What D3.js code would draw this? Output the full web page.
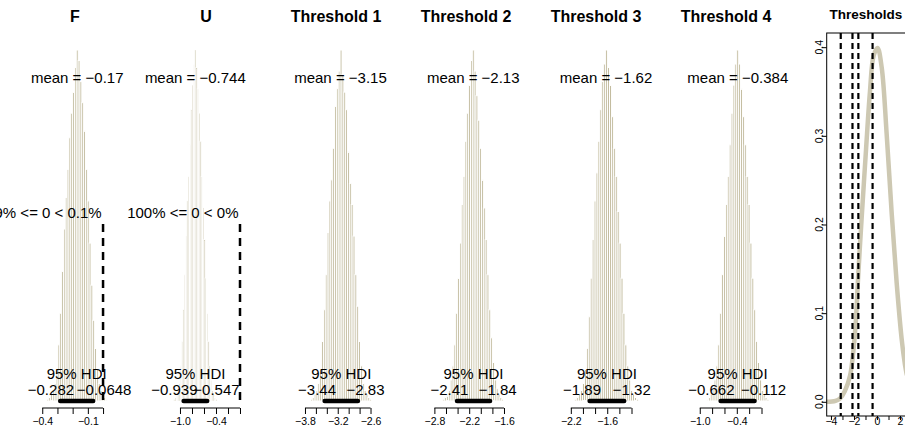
<!DOCTYPE html>
<html>
<head>
<meta charset="utf-8">
<script src="https://cdn.jsdelivr.net/npm/d3@7"></script>
<style>
  body { margin: 0; background: #fff; }
  svg { display: block; font-family: "Liberation Sans", Arial, Helvetica, sans-serif; }
</style>
</head>
<body>
<div id="chart"></div>
<script>
/* DATA */
const panelTitles = ["F", "U", "Threshold 1", "Threshold 2", "Threshold 3", "Threshold 4"];
const means = [-0.17, -0.744, -3.15, -2.13, -1.62, -0.384];
const hdiLow = [-0.282, -0.939, -3.44, -2.41, -1.89, -0.662];
const hdiHigh = [-0.0648, -0.547, -2.83, -1.84, -1.32, -0.112];
const xDomains = [[-0.418, 0.049], [-1.158, 0.025], [-3.882, -2.582], [-2.867, -1.643], [-2.37, -1.20], [-1.15, 0.0]];
const xTicks = [
  [-0.4, -0.3, -0.2, -0.1, 0.0],
  [-1.0, -0.8, -0.6, -0.4, -0.2, 0.0],
  [-3.8, -3.6, -3.4, -3.2, -3.0, -2.8, -2.6],
  [-2.8, -2.6, -2.4, -2.2, -2.0, -1.8, -1.6],
  [-2.2, -2.0, -1.8, -1.6, -1.4, -1.2],
  [-1.0, -0.8, -0.6, -0.4, -0.2, 0.0]
];
const xTickLabels = [[-0.4, -0.1], [-1.0, -0.4], [-3.8, -3.2, -2.6], [-2.8, -2.2, -1.6], [-2.2, -1.6], [-1.0, -0.4]];
// comparison value (only F and U)
const compVals = [0, 0, null, null, null, null];
const pctBelow = [99.9, 100, null, null, null, null];
const pctAbove = [0.1, 0, null, null, null, null];

// histogram bins: first edge, bin width, relative heights
const binStart = [-0.369, -1.103, -3.699, -2.653, -2.133, -0.890];
const binWidth = [0.01206, 0.02178, 0.0339, 0.0317, 0.0317, 0.0306];
const binHeights = [
  [0.005,0.01,0.02,0.03,0.05,0.09,0.16,0.25,0.37,0.49,0.58,0.66,0.75,0.82,0.88,0.95,1.0,0.97,0.91,0.85,0.77,0.66,0.57,0.45,0.33,0.23,0.15,0.09,0.05,0.03,0.015,0.01,0.005],
  [0.005,0.01,0.015,0.03,0.05,0.10,0.17,0.26,0.36,0.47,0.57,0.64,0.73,0.83,0.90,0.96,1.0,0.95,0.89,0.82,0.74,0.64,0.55,0.46,0.35,0.25,0.17,0.10,0.06,0.03,0.02,0.01,0.005],
  [0.005,0.01,0.02,0.03,0.05,0.09,0.17,0.26,0.36,0.48,0.57,0.63,0.72,0.84,0.89,0.94,1.0,0.93,0.88,0.83,0.71,0.62,0.56,0.47,0.36,0.27,0.17,0.10,0.05,0.03,0.02,0.01,0.005],
  [0.005,0.01,0.015,0.03,0.06,0.10,0.16,0.25,0.35,0.45,0.56,0.64,0.74,0.82,0.90,0.97,1.0,0.94,0.87,0.80,0.72,0.63,0.55,0.46,0.36,0.26,0.18,0.11,0.06,0.035,0.02,0.01,0.005],
  [0.005,0.01,0.02,0.03,0.05,0.09,0.15,0.24,0.35,0.46,0.57,0.65,0.74,0.83,0.91,0.96,1.0,0.95,0.90,0.81,0.72,0.64,0.54,0.45,0.35,0.25,0.16,0.10,0.06,0.03,0.02,0.01,0.005],
  [0.005,0.01,0.02,0.035,0.06,0.10,0.16,0.25,0.36,0.47,0.56,0.64,0.73,0.82,0.90,0.96,1.0,0.96,0.89,0.81,0.73,0.64,0.56,0.45,0.35,0.26,0.17,0.11,0.06,0.03,0.02,0.01,0.005]
];

const curveX = [-4.4, -3.6, -3.2, -2.8, -2.35, -1.91, -1.62, -1.33, -0.96, -0.61, -0.3, 0.05, 0.41, 0.84, 1.28, 1.71, 2.15, 2.43, 2.6];
const curveY = [0.0, 0.001, 0.004, 0.012, 0.029, 0.078, 0.145, 0.208, 0.283, 0.35, 0.39, 0.399, 0.377, 0.302, 0.212, 0.134, 0.07, 0.042, 0.03];
const rightXTicks = [-4, -3, -2, -1, 0, 1, 2];
const rightXLabels = [-4, -2, 0, 2];
const rightYTicks = [0, 0.1, 0.2, 0.3, 0.4];

/* LAYOUT */
const width = 905, height = 428;
const barColor = "#BFB899";
const curveColor = "#CDC8B2";
const panelCenters = [75, 206, 336, 466, 596, 726];
const plotW = 71;
const y0 = 401, yTop = 50;
const axisFont = 10.5;

const svg = d3.select("#chart").append("svg")
  .attr("width", width)
  .attr("height", height);

const yScale = d3.scaleLinear().domain([0, 1]).range([y0, yTop]);
const tickFmt = d3.format(".1f");
const minus = v => String(v).replace("-", "\u2212");

panelTitles.forEach((title, i) => {
  const cx = panelCenters[i];
  const x = d3.scaleLinear().domain(xDomains[i]).range([cx - plotW / 2, cx + plotW / 2]);
  const g = svg.append("g");

  // histogram
  const bw = x(binStart[i] + binWidth[i]) - x(binStart[i]);
  g.selectAll("rect.bar")
    .data(binHeights[i])
    .join("rect")
    .attr("class", "bar")
    .attr("x", (d, j) => x(binStart[i] + j * binWidth[i]))
    .attr("width", bw)
    .attr("y", d => yScale(d))
    .attr("height", d => y0 - yScale(d))
    .attr("fill", barColor)
    .attr("stroke", "white")
    .attr("stroke-width", 1);

  // x axis (line only between first and last tick, like R)
  const ticks = xTicks[i];
  const axis = d3.axisBottom(x)
    .tickValues(ticks)
    .tickSize(6)
    .tickFormat(d => xTickLabels[i].some(v => Math.abs(v - d) < 1e-9) ? tickFmt(d) : "");
  const ax = g.append("g")
    .attr("transform", `translate(0,408)`)
    .call(axis);
  ax.select(".domain").remove();
  ax.selectAll("line").attr("stroke", "#000");
  ax.selectAll("text")
    .attr("y", 9.5)
    .attr("font-size", axisFont).attr("fill", "#000")
    .attr("font-family", "Liberation Sans, Arial, sans-serif");
  ax.append("line")
    .attr("x1", x(ticks[0])).attr("x2", x(ticks[ticks.length - 1]))
    .attr("stroke", "#000");

  // title
  g.append("text")
    .attr("x", cx).attr("y", 22)
    .attr("text-anchor", "middle")
    .attr("font-size", 16).attr("font-weight", "bold")
    .text(title);

  // mean
  g.append("text")
    .attr("x", x(means[i])).attr("y", yScale(0.905))
    .attr("text-anchor", "middle")
    .attr("font-size", 15)
    .text("mean = " + minus(means[i]));

  // comparison value
  if (compVals[i] !== null) {
    g.append("line")
      .attr("x1", x(compVals[i])).attr("x2", x(compVals[i]))
      .attr("y1", yScale(0.504)).attr("y2", y0)
      .attr("stroke", "#000").attr("stroke-width", 2.5)
      .attr("stroke-dasharray", "8,6");
    const ct = g.append("text")
      .attr("y", 218)
      .attr("font-size", 15)
      .text(`${pctBelow[i]}% <= ${compVals[i]} < ${pctAbove[i]}%`);
    const w = ct.node().getComputedTextLength();
    ct.attr("x", x(compVals[i]) - 1.5 - w * pctBelow[i] / 100);
  }

  // HDI
  g.append("line")
    .attr("x1", x(hdiLow[i])).attr("x2", x(hdiHigh[i]))
    .attr("y1", y0).attr("y2", y0)
    .attr("stroke", "#000").attr("stroke-width", 4.5)
    .attr("stroke-linecap", "round");
  g.append("text")
    .attr("x", x((hdiLow[i] + hdiHigh[i]) / 2)).attr("y", y0 - 22)
    .attr("text-anchor", "middle")
    .attr("font-size", 15)
    .text("95% HDI");
  const lo = g.append("text").attr("y", y0 - 6).attr("font-size", 15).text(minus(hdiLow[i]));
  lo.attr("x", x(hdiLow[i]) - 0.7 * lo.node().getComputedTextLength());
  const hi = g.append("text").attr("y", y0 - 6).attr("font-size", 15).text(minus(hdiHigh[i]));
  hi.attr("x", x(hdiHigh[i]) - 0.3 * hi.node().getComputedTextLength());
});

/* RIGHT PANEL: Thresholds */
const boxL = 826.7, boxR = 906, boxT = 33, boxB = 416;
const xr = d3.scaleLinear().domain([-4.37, 2.52]).range([boxL, boxR]);
const yr = d3.scaleLinear().domain([-0.016, 0.416]).range([boxB, boxT]);
const rg = svg.append("g");

const curvePts = curveX.map((v, j) => [v, curveY[j]]);
rg.append("path")
  .datum(curvePts)
  .attr("d", d3.line().x(d => xr(d[0])).y(d => yr(d[1])).curve(d3.curveCatmullRom))
  .attr("fill", "none")
  .attr("stroke", curveColor)
  .attr("stroke-width", 4.5);

rg.selectAll("line.thr")
  .data(means.slice(2))
  .join("line")
  .attr("class", "thr")
  .attr("x1", d => xr(d)).attr("x2", d => xr(d))
  .attr("y1", boxT).attr("y2", boxB)
  .attr("stroke", "#000").attr("stroke-width", 2.2)
  .attr("stroke-dasharray", "6,4");

rg.append("rect")
  .attr("x", boxL).attr("y", boxT)
  .attr("width", boxR - boxL).attr("height", boxB - boxT)
  .attr("fill", "none").attr("stroke", "#000");

const rx = rg.append("g")
  .attr("transform", `translate(0,${boxB})`)
  .call(d3.axisBottom(xr).tickValues(rightXTicks).tickSize(4)
    .tickFormat(d => rightXLabels.includes(d) ? d3.format("d")(d) : ""));
rx.select(".domain").remove();
rx.selectAll("text")
  .attr("y", 1.5)
  .attr("font-size", axisFont).attr("fill", "#000")
  .attr("font-family", "Liberation Sans, Arial, sans-serif");

const ry = rg.append("g")
  .attr("transform", `translate(${boxL},0)`)
  .call(d3.axisLeft(yr).tickValues(rightYTicks).tickSize(5).tickFormat(""));
ry.select(".domain").remove();
rg.selectAll("text.ylab")
  .data(rightYTicks)
  .join("text")
  .attr("class", "ylab")
  .attr("transform", d => `translate(${boxL - 4},${yr(d)}) rotate(-90)`)
  .attr("text-anchor", "middle")
  .attr("font-size", axisFont)
  .text(d => tickFmt(d));

rg.append("text")
  .attr("x", 866).attr("y", 19)
  .attr("text-anchor", "middle")
  .attr("font-size", 13.5).attr("font-weight", "bold")
  .text("Thresholds");
</script>
</body>
</html>
